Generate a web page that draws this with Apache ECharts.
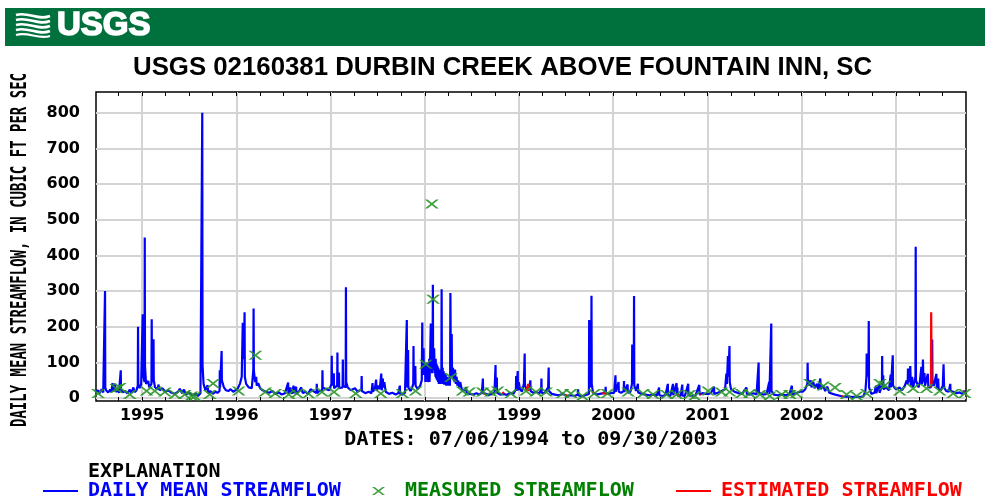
<!DOCTYPE html>
<html>
<head>
<meta charset="utf-8">
<script src="https://cdn.jsdelivr.net/npm/echarts@6/dist/echarts.min.js"></script>
<style>
  html, body { margin: 0; padding: 0; background: #fff; }
  #chart { width: 985px; height: 498px; }
</style>
</head>
<body>
<div id="chart"></div>
<script>
// daily mean streamflow, cfs (one small list per calendar year)
const flow1994 = [['1994-07-06',18],['1994-07-14',22],['1994-07-20',14],['1994-07-28',25],['1994-08-03',16],['1994-08-09',20],['1994-08-10',300],['1994-08-11',30],['1994-08-14',22],['1994-08-22',16],['1994-08-30',24],['1994-09-04',18],['1994-09-08',42],['1994-09-10',20],['1994-09-18',38],['1994-09-20',18],['1994-09-28',22],['1994-10-03',15],['1994-10-09',20],['1994-10-10',78],['1994-10-11',25],['1994-10-18',16],['1994-10-27',20],['1994-11-05',13],['1994-11-14',24],['1994-11-20',14],['1994-11-28',30],['1994-12-02',17],['1994-12-10',22],['1994-12-15',35],['1994-12-16',200],['1994-12-17',40],['1994-12-22',28],['1994-12-28',38]];
const flow1995 = [['1995-01-02',40],['1995-01-03',235],['1995-01-04',180],['1995-01-06',60],['1995-01-10',45],['1995-01-11',450],['1995-01-12',90],['1995-01-16',40],['1995-01-20',35],['1995-01-25',48],['1995-01-28',30],['1995-02-06',40],['1995-02-07',221],['1995-02-08',60],['1995-02-13',45],['1995-02-14',165],['1995-02-15',50],['1995-02-20',30],['1995-03-03',25],['1995-03-05',38],['1995-03-10',22],['1995-03-20',28],['1995-04-01',18],['1995-04-12',22],['1995-04-25',15],['1995-05-08',12],['1995-05-20',18],['1995-05-27',26],['1995-06-05',14],['1995-06-12',24],['1995-06-20',11],['1995-07-02',16],['1995-07-15',8],['1995-07-28',12],['1995-08-05',6],['1995-08-15',14],['1995-08-21',10],['1995-08-22',800],['1995-08-23',92],['1995-08-26',90],['1995-08-27',40],['1995-09-03',22],['1995-09-12',36],['1995-09-14',14],['1995-09-22',20],['1995-10-02',12],['1995-10-12',18],['1995-10-20',15],['1995-10-28',20],['1995-10-29',78],['1995-10-30',30],['1995-11-04',28],['1995-11-05',132],['1995-11-06',50],['1995-11-09',45],['1995-11-14',30],['1995-11-22',22],['1995-12-01',20],['1995-12-10',25],['1995-12-20',18],['1995-12-28',22]];
const flow1996 = [['1996-01-05',25],['1996-01-15',40],['1996-01-22',60],['1996-01-26',211],['1996-01-28',110],['1996-01-31',120],['1996-02-02',241],['1996-02-03',60],['1996-02-08',40],['1996-02-18',30],['1996-03-01',28],['1996-03-07',80],['1996-03-08',251],['1996-03-09',77],['1996-03-12',75],['1996-03-14',45],['1996-03-18',60],['1996-03-20',35],['1996-03-26',42],['1996-04-02',28],['1996-04-12',22],['1996-04-25',18],['1996-05-08',15],['1996-05-20',20],['1996-06-01',12],['1996-06-14',16],['1996-06-25',10],['1996-07-08',14],['1996-07-20',44],['1996-07-21',12],['1996-07-28',30],['1996-08-04',12],['1996-08-10',35],['1996-08-11',14],['1996-08-20',32],['1996-08-21',12],['1996-09-01',20],['1996-09-08',30],['1996-09-15',14],['1996-09-25',18],['1996-10-05',12],['1996-10-15',25],['1996-10-25',20],['1996-11-07',14],['1996-11-08',40],['1996-11-09',14],['1996-11-18',20],['1996-11-29',22],['1996-11-30',78],['1996-12-01',30],['1996-12-12',26],['1996-12-26',22]];
const flow1997 = [['1997-01-01',25],['1997-01-04',40],['1997-01-05',119],['1997-01-06',35],['1997-01-12',30],['1997-01-13',70],['1997-01-14',28],['1997-01-26',35],['1997-01-27',128],['1997-01-28',40],['1997-02-01',30],['1997-02-02',72],['1997-02-03',28],['1997-02-16',30],['1997-02-17',108],['1997-02-18',35],['1997-02-28',30],['1997-03-01',311],['1997-03-02',45],['1997-03-08',30],['1997-03-20',22],['1997-04-05',28],['1997-04-15',18],['1997-04-30',25],['1997-05-01',62],['1997-05-02',20],['1997-05-15',14],['1997-05-28',18],['1997-06-08',14],['1997-06-12',42],['1997-06-14',18],['1997-06-22',30],['1997-06-26',52],['1997-06-28',20],['1997-07-05',35],['1997-07-10',25],['1997-07-16',69],['1997-07-18',22],['1997-07-22',55],['1997-07-24',30],['1997-07-28',45],['1997-08-02',18],['1997-08-15',12],['1997-08-28',15],['1997-09-10',10],['1997-09-20',14],['1997-09-26',35],['1997-09-27',12],['1997-10-08',10],['1997-10-16',16],['1997-10-22',20],['1997-10-23',219],['1997-10-24',30],['1997-10-27',25],['1997-10-28',135],['1997-10-29',30],['1997-11-06',20],['1997-11-12',28],['1997-11-17',40],['1997-11-18',146],['1997-11-19',50],['1997-11-24',40],['1997-11-25',90],['1997-11-26',35],['1997-12-05',25],['1997-12-14',35],['1997-12-20',50],['1997-12-22',212],['1997-12-23',70],['1997-12-27',140],['1997-12-28',65]];
const flow1998 = [['1998-01-01',60],['1998-01-02',95],['1998-01-03',45],['1998-01-05',100],['1998-01-06',50],['1998-01-08',100],['1998-01-09',55],['1998-01-11',90],['1998-01-12',45],['1998-01-14',80],['1998-01-16',50],['1998-01-18',110],['1998-01-19',45],['1998-01-21',95],['1998-01-23',90],['1998-01-24',209],['1998-01-25',85],['1998-01-27',150],['1998-01-29',70],['1998-01-31',120],['1998-02-01',318],['1998-02-02',100],['1998-02-04',80],['1998-02-06',140],['1998-02-08',70],['1998-02-09',105],['1998-02-11',60],['1998-02-12',110],['1998-02-14',55],['1998-02-16',95],['1998-02-17',50],['1998-02-19',90],['1998-02-21',45],['1998-02-22',85],['1998-02-24',40],['1998-02-26',80],['1998-02-28',45],['1998-03-02',75],['1998-03-04',40],['1998-03-06',70],['1998-03-07',305],['1998-03-08',90],['1998-03-10',50],['1998-03-11',85],['1998-03-13',40],['1998-03-15',75],['1998-03-17',38],['1998-03-19',70],['1998-03-21',40],['1998-03-23',65],['1998-03-25',35],['1998-03-27',60],['1998-03-29',35],['1998-04-01',55],['1998-04-04',35],['1998-04-06',60],['1998-04-08',35],['1998-04-09',60],['1998-04-10',295],['1998-04-12',70],['1998-04-15',180],['1998-04-16',90],['1998-04-18',60],['1998-04-20',85],['1998-04-22',50],['1998-04-24',75],['1998-04-26',45],['1998-04-28',80],['1998-05-01',40],['1998-05-04',60],['1998-05-07',35],['1998-05-10',50],['1998-05-14',30],['1998-05-18',45],['1998-05-24',25],['1998-06-01',20],['1998-06-10',30],['1998-06-12',15],['1998-06-25',12],['1998-07-08',10],['1998-07-20',14],['1998-07-30',10],['1998-08-10',15],['1998-08-14',55],['1998-08-15',14],['1998-08-25',12],['1998-09-05',9],['1998-09-18',12],['1998-09-28',15],['1998-10-02',93],['1998-10-03',20],['1998-10-07',58],['1998-10-08',15],['1998-10-20',10],['1998-11-02',12],['1998-11-15',9],['1998-11-28',15],['1998-12-10',12],['1998-12-20',25],['1998-12-21',62],['1998-12-22',20],['1998-12-27',76],['1998-12-28',22],['1998-12-31',45]];
const flow1999 = [['1999-01-05',25],['1999-01-12',18],['1999-01-20',40],['1999-01-23',125],['1999-01-24',35],['1999-02-01',22],['1999-02-10',30],['1999-02-14',50],['1999-02-15',20],['1999-02-25',15],['1999-03-10',18],['1999-03-20',12],['1999-03-28',25],['1999-03-29',55],['1999-03-30',15],['1999-04-10',14],['1999-04-24',30],['1999-04-26',86],['1999-04-27',20],['1999-05-08',12],['1999-05-20',10],['1999-06-05',8],['1999-06-20',12],['1999-07-05',6],['1999-07-20',8],['1999-08-05',6],['1999-08-17',10],['1999-08-18',25],['1999-08-19',8],['1999-09-01',5],['1999-09-15',8],['1999-09-29',12],['1999-09-30',219],['1999-10-01',60],['1999-10-05',30],['1999-10-08',50],['1999-10-09',287],['1999-10-10',40],['1999-10-15',15],['1999-10-28',10],['1999-11-10',12],['1999-11-25',14],['1999-12-02',20],['1999-12-03',32],['1999-12-04',14],['1999-12-15',12],['1999-12-28',15]];
const flow2000 = [['2000-01-05',15],['2000-01-09',20],['2000-01-10',64],['2000-01-11',18],['2000-01-18',15],['2000-01-22',45],['2000-01-23',18],['2000-02-01',15],['2000-02-11',20],['2000-02-12',48],['2000-02-13',18],['2000-02-26',38],['2000-02-27',15],['2000-03-08',18],['2000-03-14',40],['2000-03-15',150],['2000-03-16',40],['2000-03-21',60],['2000-03-22',286],['2000-03-23',35],['2000-03-30',20],['2000-04-06',40],['2000-04-07',16],['2000-04-20',12],['2000-05-05',10],['2000-05-20',8],['2000-06-05',10],['2000-06-18',7],['2000-06-27',30],['2000-06-28',8],['2000-07-10',6],['2000-07-22',9],['2000-07-31',40],['2000-08-01',8],['2000-08-10',6],['2000-08-20',40],['2000-08-21',8],['2000-09-03',42],['2000-09-04',8],['2000-09-06',30],['2000-09-07',7],['2000-09-18',6],['2000-09-25',38],['2000-09-26',7],['2000-10-05',6],['2000-10-18',40],['2000-10-19',8],['2000-11-01',6],['2000-11-15',7],['2000-11-30',37],['2000-12-01',10],['2000-12-12',14],['2000-12-25',12]];
const flow2001 = [['2001-01-05',12],['2001-01-15',15],['2001-01-26',32],['2001-01-27',12],['2001-02-10',15],['2001-02-25',20],['2001-03-10',25],['2001-03-15',69],['2001-03-17',40],['2001-03-21',118],['2001-03-23',60],['2001-03-27',146],['2001-03-28',45],['2001-04-02',25],['2001-04-15',18],['2001-05-01',14],['2001-05-15',12],['2001-06-01',30],['2001-06-02',12],['2001-06-15',10],['2001-06-28',14],['2001-07-10',10],['2001-07-17',15],['2001-07-18',100],['2001-07-19',15],['2001-08-05',10],['2001-08-18',12],['2001-08-28',45],['2001-08-29',12],['2001-09-04',15],['2001-09-05',209],['2001-09-06',20],['2001-09-15',10],['2001-10-01',8],['2001-10-15',10],['2001-11-01',8],['2001-11-15',12],['2001-11-24',35],['2001-11-25',10],['2001-12-10',14],['2001-12-25',18]];
const flow2002 = [['2002-01-05',18],['2002-01-15',25],['2002-01-23',40],['2002-01-24',99],['2002-01-25',55],['2002-01-30',35],['2002-02-05',50],['2002-02-08',30],['2002-02-15',45],['2002-02-20',28],['2002-03-01',40],['2002-03-06',25],['2002-03-14',55],['2002-03-16',25],['2002-03-25',35],['2002-04-02',20],['2002-04-10',32],['2002-04-18',15],['2002-05-01',12],['2002-05-15',9],['2002-06-01',6],['2002-06-15',4],['2002-07-01',5],['2002-07-15',3],['2002-08-01',4],['2002-08-15',3],['2002-08-28',5],['2002-09-05',20],['2002-09-09',60],['2002-09-10',125],['2002-09-12',60],['2002-09-17',100],['2002-09-18',216],['2002-09-19',30],['2002-09-28',12],['2002-10-10',15],['2002-10-16',35],['2002-10-17',14],['2002-10-29',40],['2002-10-30',15],['2002-11-08',35],['2002-11-09',118],['2002-11-10',30],['2002-11-13',64],['2002-11-14',25],['2002-11-25',30],['2002-12-05',22],['2002-12-12',66],['2002-12-13',30],['2002-12-20',120],['2002-12-21',35],['2002-12-28',28]];
const flow2003 = [['2003-01-05',25],['2003-01-15',30],['2003-01-25',22],['2003-02-05',35],['2003-02-12',50],['2003-02-16',40],['2003-02-17',83],['2003-02-19',45],['2003-02-24',50],['2003-02-26',90],['2003-02-28',35],['2003-03-05',60],['2003-03-08',30],['2003-03-14',45],['2003-03-18',60],['2003-03-19',424],['2003-03-20',50],['2003-03-25',40],['2003-03-30',30],['2003-04-04',45],['2003-04-09',50],['2003-04-10',88],['2003-04-12',40],['2003-04-15',60],['2003-04-16',108],['2003-04-18',45],['2003-04-22',70],['2003-04-24',35],['2003-04-28',40],['2003-05-05',68],['2003-05-07',30],['2003-05-12',25],['2003-05-17',30],['2003-05-21',40],['2003-05-22',164],['2003-05-23',45],['2003-05-28',35],['2003-06-02',30],['2003-06-07',68],['2003-06-09',28],['2003-06-14',55],['2003-06-16',25],['2003-06-24',22],['2003-07-02',35],['2003-07-05',95],['2003-07-07',30],['2003-07-15',20],['2003-07-25',18],['2003-07-31',40],['2003-08-01',20],['2003-08-12',18],['2003-08-25',14],['2003-09-05',16],['2003-09-15',12],['2003-09-22',20],['2003-09-30',14]];

// estimated periods (red), '-' breaks the line between periods
const estimatedFlow = [['1998-08-18',12],['1998-08-24',12],['1998-08-25','-'],['1998-10-28',14],['1998-11-05',16],['1998-11-06','-'],['1999-01-31',20],['1999-02-05',40],['1999-02-08',20],['1999-02-09','-'],['1999-06-28',8],['1999-07-08',8],['1999-07-09','-'],['1999-10-12',18],['1999-10-20',14],['1999-10-21','-'],['1999-11-20',14],['1999-12-10',12],['1999-12-11','-'],['2000-09-08',8],['2000-09-16',8],['2000-09-17','-'],['2000-12-01',10],['2000-12-05',10],['2000-12-06','-'],['2002-06-05',5],['2002-06-10',5],['2002-06-11','-'],['2003-05-17',30],['2003-05-18',241],['2003-05-20',40],['2003-05-21','-'],['2003-09-18',18],['2003-09-24',18]];

// field measurements (green x)
const measuredFlow = [['1994-07-14',13],['1994-09-23',27],['1994-10-06',30],['1994-11-14',10],['1995-01-18',20],['1995-02-19',20],['1995-03-30',17],['1995-05-08',10],['1995-06-15',10],['1995-07-11',6],['1995-07-24',5],['1995-09-20',10],['1995-10-03',41],['1996-01-10',20],['1996-03-15',120],['1996-04-22',17],['1996-05-31',13],['1996-07-22',10],['1996-08-23',13],['1996-10-07',12],['1996-11-28',17],['1997-01-14',17],['1997-04-08',13],['1997-07-14',13],['1997-10-06',13],['1997-11-26',20],['1998-01-05',95],['1998-01-28',544],['1998-02-02',277],['1998-04-12',58],['1998-05-27',20],['1998-06-22',17],['1998-08-13',17],['1998-09-14',17],['1998-10-10',20],['1998-12-01',13],['1999-01-28',20],['1999-03-08',17],['1999-04-16',17],['1999-06-19',13],['1999-07-21',13],['1999-09-04',6],['1999-10-20',13],['1999-12-10',13],['2000-02-28',17],['2000-04-26',13],['2000-06-04',10],['2000-07-26',10],['2000-09-03',10],['2000-10-23',10],['2000-11-12',6],['2001-01-03',20],['2001-02-24',17],['2001-03-28',17],['2001-05-13',13],['2001-06-14',13],['2001-07-23',10],['2001-08-30',6],['2001-10-15',10],['2001-11-16',10],['2001-12-12',13],['2002-02-02',41],['2002-03-26',34],['2002-05-10',30],['2002-06-24',10],['2002-08-02',6],['2002-09-10',13],['2002-10-31',41],['2002-11-20',36],['2003-01-16',20],['2003-03-09',27],['2003-04-30',27],['2003-06-20',20],['2003-08-11',13],['2003-09-25',13]];

const yearLabels = ['1995','1996','1997','1998','1999','2000','2001','2002','2003'];
const yTicks = [0, 100, 200, 300, 400, 500, 600, 700, 800];
const quarterMonths = ['01', '04', '07', '10'];

const dailyFlow = [].concat(flow1994, flow1995, flow1996, flow1997, flow1998,
  flow1999, flow2000, flow2001, flow2002, flow2003);

const yearStarts = yearLabels.map(y => y + '-01-01');
const quarterStarts = [];
['1994'].concat(yearLabels).forEach(y => {
  quarterMonths.forEach(m => quarterStarts.push(y + '-' + m + '-01'));
});

const monoFont = '"DejaVu Sans Mono", monospace';
const xMin = '1994-07-06';
const xMax = '2003-09-30';
const X_PATH = 'path://M0,0L2.6,0L13,8L10.4,8ZM10.4,0L13,0L2.6,8L0,8Z';

const chart = echarts.init(document.getElementById('chart'), null, { renderer: 'canvas' });

const quarterAxis = (pos) => ({
  type: 'time',
  position: pos,
  min: xMin,
  max: xMax,
  gridIndex: 0,
  axisLine: { show: false },
  axisLabel: { show: false },
  splitLine: { show: false },
  axisTick: {
    show: true,
    inside: true,
    length: 4,
    customValues: quarterStarts,
    lineStyle: { color: '#000', width: 1 }
  }
});

const option = {
  animation: false,
  backgroundColor: '#fff',
  title: [
    {
      text: 'USGS 02160381 DURBIN CREEK ABOVE FOUNTAIN INN, SC',
      left: 133,
      top: 55,
      padding: 0,
      textStyle: {
        fontFamily: '"Liberation Sans", Arial, sans-serif',
        fontWeight: 'bold',
        fontSize: 25.8,
        color: '#000'
      }
    },
    {
      text: 'EXPLANATION',
      left: 88,
      top: 462,
      padding: 0,
      textStyle: { fontFamily: monoFont, fontWeight: 'bold', fontSize: 20, color: '#000' }
    }
  ],
  legend: [
    {
      data: ['DAILY MEAN STREAMFLOW'],
      left: 43, top: 481, padding: 0,
      icon: 'rect', itemWidth: 35, itemHeight: 2,
      textStyle: { fontFamily: monoFont, fontWeight: 'bold', fontSize: 20, color: '#0000ff', padding: [0, 0, 0, 5] }
    },
    {
      data: ['MEASURED STREAMFLOW'],
      left: 372, top: 481, padding: 0,
      icon: X_PATH, itemWidth: 13, itemHeight: 8,
      textStyle: { fontFamily: monoFont, fontWeight: 'bold', fontSize: 20, color: '#008000', padding: [0, 0, 0, 15] }
    },
    {
      data: ['ESTIMATED STREAMFLOW'],
      left: 676, top: 481, padding: 0,
      icon: 'rect', itemWidth: 35, itemHeight: 2,
      textStyle: { fontFamily: monoFont, fontWeight: 'bold', fontSize: 20, color: '#ff0000', padding: [0, 0, 0, 5] }
    }
  ],
  grid: {
    left: 96, right: 19, top: 92, bottom: 97,
    show: true,
    borderColor: '#000',
    borderWidth: 1.5,
    backgroundColor: '#fff'
  },
  xAxis: [
    {
      type: 'time',
      min: xMin,
      max: xMax,
      name: 'DATES: 07/06/1994 to 09/30/2003',
      nameLocation: 'middle',
      nameGap: 29,
      nameTextStyle: { fontFamily: monoFont, fontWeight: 'bold', fontSize: 20, color: '#000' },
      axisLine: { show: false },
      axisTick: { show: false, customValues: yearStarts },
      axisLabel: {
        customValues: yearStarts,
        formatter: '{yyyy}',
        margin: 7,
        fontFamily: '"DejaVu Sans", sans-serif',
        fontWeight: 'bold',
        fontSize: 16,
        color: '#000'
      },
      splitLine: { show: true, lineStyle: { color: '#d4d4d4', width: 2 } }
    },
    quarterAxis('bottom'),
    quarterAxis('top')
  ],
  yAxis: {
    type: 'value',
    min: -8,
    max: 858,
    axisLine: { show: false },
    axisTick: { show: false, customValues: yTicks },
    axisLabel: {
      customValues: yTicks,
      margin: 16,
      fontFamily: '"DejaVu Sans", sans-serif',
      fontWeight: 'bold',
      fontSize: 16,
      color: '#000'
    },
    splitLine: { show: true, lineStyle: { color: '#d4d4d4', width: 2 } }
  },
  series: [
    {
      name: 'DAILY MEAN STREAMFLOW',
      type: 'line',
      xAxisIndex: 0,
      data: dailyFlow,
      showSymbol: false,
      lineStyle: { color: '#0000ff', width: 2.2 },
      itemStyle: { color: '#0000ff' },
      z: 2
    },
    {
      name: 'ESTIMATED STREAMFLOW',
      type: 'line',
      xAxisIndex: 0,
      data: estimatedFlow,
      showSymbol: false,
      connectNulls: false,
      lineStyle: { color: '#ff0000', width: 2.2 },
      itemStyle: { color: '#ff0000' },
      z: 3
    },
    {
      name: 'MEASURED STREAMFLOW',
      type: 'scatter',
      xAxisIndex: 0,
      data: measuredFlow,
      symbol: X_PATH,
      symbolSize: [14, 9],
      itemStyle: { color: '#2a962a', opacity: 0.9 },
      z: 4
    }
  ],
  graphic: [
    { type: 'rect', left: 5, top: 8, shape: { width: 980, height: 38 }, style: { fill: '#00703c' } },
    { type: 'bezierCurve', shape: { x1: 16, y1: 15, x2: 50, y2: 16, cpx1: 28, cpy1: 11, cpx2: 38, cpy2: 21 }, style: { stroke: '#fff', lineWidth: 2.6, fill: null } },
    { type: 'bezierCurve', shape: { x1: 16, y1: 20, x2: 50, y2: 21, cpx1: 28, cpy1: 16, cpx2: 38, cpy2: 26 }, style: { stroke: '#fff', lineWidth: 2.6, fill: null } },
    { type: 'bezierCurve', shape: { x1: 16, y1: 25, x2: 50, y2: 26, cpx1: 28, cpy1: 21, cpx2: 38, cpy2: 31 }, style: { stroke: '#fff', lineWidth: 2.6, fill: null } },
    { type: 'bezierCurve', shape: { x1: 16, y1: 30, x2: 50, y2: 31, cpx1: 28, cpy1: 26, cpx2: 38, cpy2: 36 }, style: { stroke: '#fff', lineWidth: 2.6, fill: null } },
    { type: 'bezierCurve', shape: { x1: 16, y1: 35, x2: 50, y2: 36, cpx1: 28, cpy1: 31, cpx2: 38, cpy2: 40 }, style: { stroke: '#fff', lineWidth: 2.2, fill: null } },
    {
      type: 'text', x: 57, y: 26,
      style: {
        text: 'USGS', fill: '#fff', stroke: '#fff', lineWidth: 1.6,
        font: 'bold 33px "Liberation Sans", Arial, sans-serif',
        verticalAlign: 'middle'
      }
    },
    {
      type: 'text', x: 21, y: 250, rotation: Math.PI / 2, scaleY: 1.45,
      style: {
        text: 'DAILY MEAN STREAMFLOW, IN CUBIC FT PER SEC', fill: '#000',
        font: 'bold 14px "DejaVu Sans Mono", monospace',
        align: 'center', verticalAlign: 'middle'
      }
    }
  ]
};

chart.setOption(option);
</script>
</body>
</html>
